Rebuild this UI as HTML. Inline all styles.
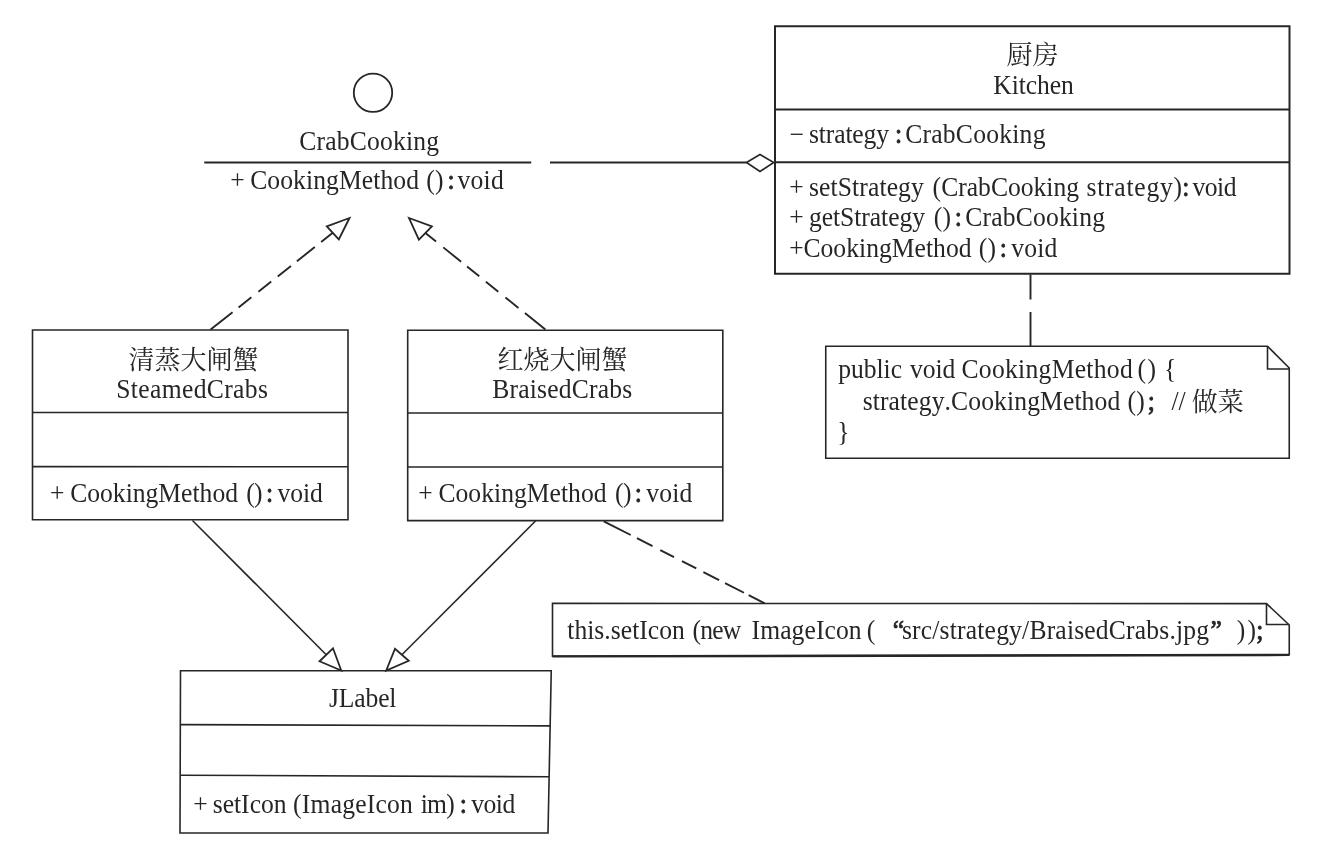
<!DOCTYPE html>
<html lang="zh"><head><meta charset="utf-8"><title>Strategy pattern UML</title>
<style>
html,body{margin:0;padding:0;background:#fff}
body{width:1333px;height:842px;overflow:hidden;position:relative;font-family:"Liberation Serif",serif}
svg{position:absolute;left:0;top:0;display:block;filter:blur(0.35px)}
svg text{font-family:"Liberation Serif","Noto Serif CJK SC",serif;font-size:25.6px;fill:#262626;stroke:none;white-space:pre;font-kerning:none;font-variant-ligatures:none}
svg .c{stroke:#262626;stroke-width:0.8px}
svg .q{stroke:#262626;stroke-width:0.7px}
svg .cjk{font-family:"Liberation Serif","Noto Serif CJK SC",serif;font-size:26px}
</style></head><body>
<svg width="1333" height="842" viewBox="0 0 1333 842" fill="none" stroke="#262626" stroke-linejoin="miter">
<circle cx="373" cy="92.75" r="19.2" stroke-width="1.8"/>
<text transform="translate(0,150) scale(1,1.04)"><tspan x="299.25" letter-spacing="0.179">CrabCooking</tspan></text>
<line x1="204.25" y1="162.5" x2="531.25" y2="162.5" stroke-width="2"/>
<text transform="translate(0,189.4) scale(1,1.04)"><tspan x="230.22">+</tspan> <tspan x="250.20" letter-spacing="0.086">CookingMethod</tspan> <tspan x="426.38" letter-spacing="0.200">()</tspan><tspan x="447.48" class="c">:</tspan><tspan x="457.50" letter-spacing="0.267">void</tspan></text>
<line x1="550" y1="162.5" x2="746.5" y2="162.5" stroke-width="2"/>
<polygon points="746.5,162.5 760,154.5 773.75,162.5 760,171.5" stroke-width="1.6"/>
<polygon points="775,26.25 1289.5,26.25 1289.5,273.75 775,273.75" stroke-width="2"/>
<line x1="775" y1="109.5" x2="1289.5" y2="109.5" stroke-width="2"/>
<line x1="775" y1="162.25" x2="1289.5" y2="162.25" stroke-width="2"/>
<text class="cjk" x="1006.6" y="63.8">厨房</text>
<text transform="translate(0,94.2) scale(1,1.04)"><tspan x="993.26" letter-spacing="-0.069">Kitchen</tspan></text>
<text transform="translate(0,142.5) scale(1,1.04)"><tspan x="789.23">−</tspan> <tspan x="808.95" letter-spacing="-0.127">strategy</tspan><tspan x="894.98" class="c">:</tspan><tspan x="905.20" letter-spacing="0.234">CrabCooking</tspan></text>
<text transform="translate(0,195.5) scale(1,1.04)"><tspan x="789.23">+</tspan> <tspan x="808.95" letter-spacing="0.115">setStrategy</tspan> <tspan x="932.62">(CrabCooking</tspan> <tspan x="1086.45" letter-spacing="0.764">strategy)</tspan><tspan x="1182.22" class="c">:</tspan><tspan x="1192.50" letter-spacing="-0.483">void</tspan></text>
<text transform="translate(0,225.5) scale(1,1.04)"><tspan x="789.23">+</tspan> <tspan x="808.90" letter-spacing="-0.039">getStrategy</tspan> <tspan x="933.88" letter-spacing="0.200">()</tspan><tspan x="954.73" class="c">:</tspan><tspan x="965.20" letter-spacing="0.184">CrabCooking</tspan></text>
<text transform="translate(0,257.25) scale(1,1.04)"><tspan x="789.23">+</tspan><tspan x="803.45" letter-spacing="0.024">CookingMethod</tspan> <tspan x="978.88" letter-spacing="0.200">()</tspan><tspan x="999.73" class="c">:</tspan><tspan x="1011.25" letter-spacing="0.183">void</tspan></text>
<line x1="1030.5" y1="274.5" x2="1030.5" y2="346" stroke-width="1.9" stroke-dasharray="25 12.5 60"/>
<polygon points="825.75,346.25 1267.5,346.25 1289.25,368 1289.25,458.25 825.75,458.25" stroke-width="1.6"/>
<polyline points="1267.5,346.25 1267.5,369 1289.25,369" stroke-width="1.6"/>
<text transform="translate(0,377.5) scale(1,1.04)"><tspan x="838.34" letter-spacing="-0.058">public</tspan> <tspan x="910.00" letter-spacing="-0.067">void</tspan> <tspan x="961.45" letter-spacing="0.295">CookingMethod</tspan> <tspan x="1137.62" letter-spacing="1.450">()</tspan> <tspan x="1163.92">{</tspan></text>
<text transform="translate(0,410) scale(1,1.04)"><tspan x="862.70" letter-spacing="0.112">strategy.CookingMethod</tspan> <tspan x="1127.62" letter-spacing="0.200">()</tspan><tspan x="1147.67" class="c">;</tspan> <tspan x="1171.50" letter-spacing="-0.225">//</tspan></text>
<text class="cjk" x="1191.7" y="410.8">做菜</text>
<text transform="translate(0,441) scale(1,1.04)"><tspan x="837.17">}</tspan></text>
<polygon points="32.5,330 348,330 348,519.75 32.5,519.75" stroke-width="1.6"/>
<line x1="32.5" y1="412.5" x2="348" y2="412.5" stroke-width="1.6"/>
<line x1="32.5" y1="466.6" x2="348" y2="466.8" stroke-width="1.6"/>
<text class="cjk" x="128.6" y="368.7">清蒸大闸蟹</text>
<text transform="translate(0,397.5) scale(1,1.04)"><tspan x="116.29" letter-spacing="0.342">SteamedCrabs</tspan></text>
<text transform="translate(0,501.7) scale(1,1.04)"><tspan x="49.98">+</tspan> <tspan x="70.20">CookingMethod</tspan> <tspan x="246.38" letter-spacing="-0.800">()</tspan><tspan x="265.98" class="c">:</tspan><tspan x="277.50" letter-spacing="-0.067">void</tspan></text>
<polygon points="407.7,330.2 722.8,330.2 722.8,520.6 407.7,520.6" stroke-width="1.6"/>
<line x1="407.7" y1="413" x2="722.8" y2="413" stroke-width="1.6"/>
<line x1="407.7" y1="467" x2="722.8" y2="467" stroke-width="1.6"/>
<text class="cjk" x="497.6" y="368.7">红烧大闸蟹</text>
<text transform="translate(0,398) scale(1,1.04)"><tspan x="492.26" letter-spacing="0.181">BraisedCrabs</tspan></text>
<text transform="translate(0,502) scale(1,1.04)"><tspan x="418.23">+</tspan> <tspan x="438.45" letter-spacing="0.024">CookingMethod</tspan> <tspan x="615.12" letter-spacing="-0.550">()</tspan><tspan x="634.73" class="c">:</tspan><tspan x="646.25" letter-spacing="0.183">void</tspan></text>
<line x1="210.6" y1="329.6" x2="332.8" y2="232.85000000000002" stroke-width="1.9" stroke-dasharray="28 7.7 16.3 9 16.3 8.3 16.9 7.6 22.8 8.1 30"/>
<polygon points="349.5,218 326.8,226.3 338.8,239.4" fill="#fff" stroke-width="1.8"/>
<line x1="545.4" y1="329.6" x2="425.4" y2="232.95" stroke-width="1.9" stroke-dasharray="26.3 8.3 16.7 9.2 15.9 8.5 15.7 7.6 22.9 9.3 30"/>
<polygon points="409,218 431.9,226.3 418.9,239.6" fill="#fff" stroke-width="1.8"/>
<line x1="192.5" y1="520.5" x2="326.25" y2="654.75" stroke-width="1.6"/>
<polygon points="341.25,670.5 319.5,661.25 333,648.25" fill="#fff" stroke-width="1.8"/>
<line x1="535.5" y1="521" x2="401.875" y2="654.75" stroke-width="1.6"/>
<polygon points="386.25,670.5 395,648.75 408.75,660.75" fill="#fff" stroke-width="1.8"/>
<polygon points="180.5,670.75 551.25,670.75 548,833 180,833" stroke-width="1.6"/>
<line x1="180.5" y1="724.6" x2="550.2" y2="725.9" stroke-width="1.6"/>
<line x1="180.3" y1="775.2" x2="549.2" y2="776.8" stroke-width="1.6"/>
<text transform="translate(0,707) scale(1,1.04)"><tspan x="328.96" letter-spacing="-0.138">JLabel</tspan></text>
<text transform="translate(0,812.5) scale(1,1.04)"><tspan x="193.22">+</tspan> <tspan x="212.70">setIcon</tspan> <tspan x="293.12" letter-spacing="0.199">(ImageIcon</tspan> <tspan x="420.71" letter-spacing="-0.694">im)</tspan><tspan x="459.73" class="c">:</tspan><tspan x="471.25" letter-spacing="-0.483">void</tspan></text>
<line x1="603.8" y1="521.3" x2="764.7" y2="603.3" stroke-width="1.9" stroke-dasharray="30.2 7 17.5 8.7 15.4 8.9 16.1 8 17.6 6.7 21.2 5.3 30"/>
<polygon points="552.5,603.4 1266.5,603.6 1289.25,625 1289.25,654.8 552.5,656.3" stroke-width="1.6"/>
<line x1="552.5" y1="656.4" x2="1289.25" y2="654.9" stroke-width="2.4"/>
<polyline points="1266.5,603.5 1266.5,624.5 1289.25,624.5" stroke-width="1.6"/>
<text transform="translate(0,638.5) scale(1,1.04)"><tspan x="567.25" letter-spacing="0.030">this.setIcon</tspan> <tspan x="692.62" letter-spacing="-0.812">(new</tspan> <tspan x="751.58" letter-spacing="0.077">ImageIcon</tspan> <tspan x="866.88">(</tspan> <tspan x="892.77" class="q">“</tspan><tspan x="901.95" letter-spacing="0.183">src/strategy/BraisedCrabs.jpg</tspan><tspan x="1210.42" class="q">”</tspan> <tspan x="1236.67" letter-spacing="2.400">))</tspan><tspan x="1256.17" class="c">;</tspan></text>
</svg>
</body></html>
